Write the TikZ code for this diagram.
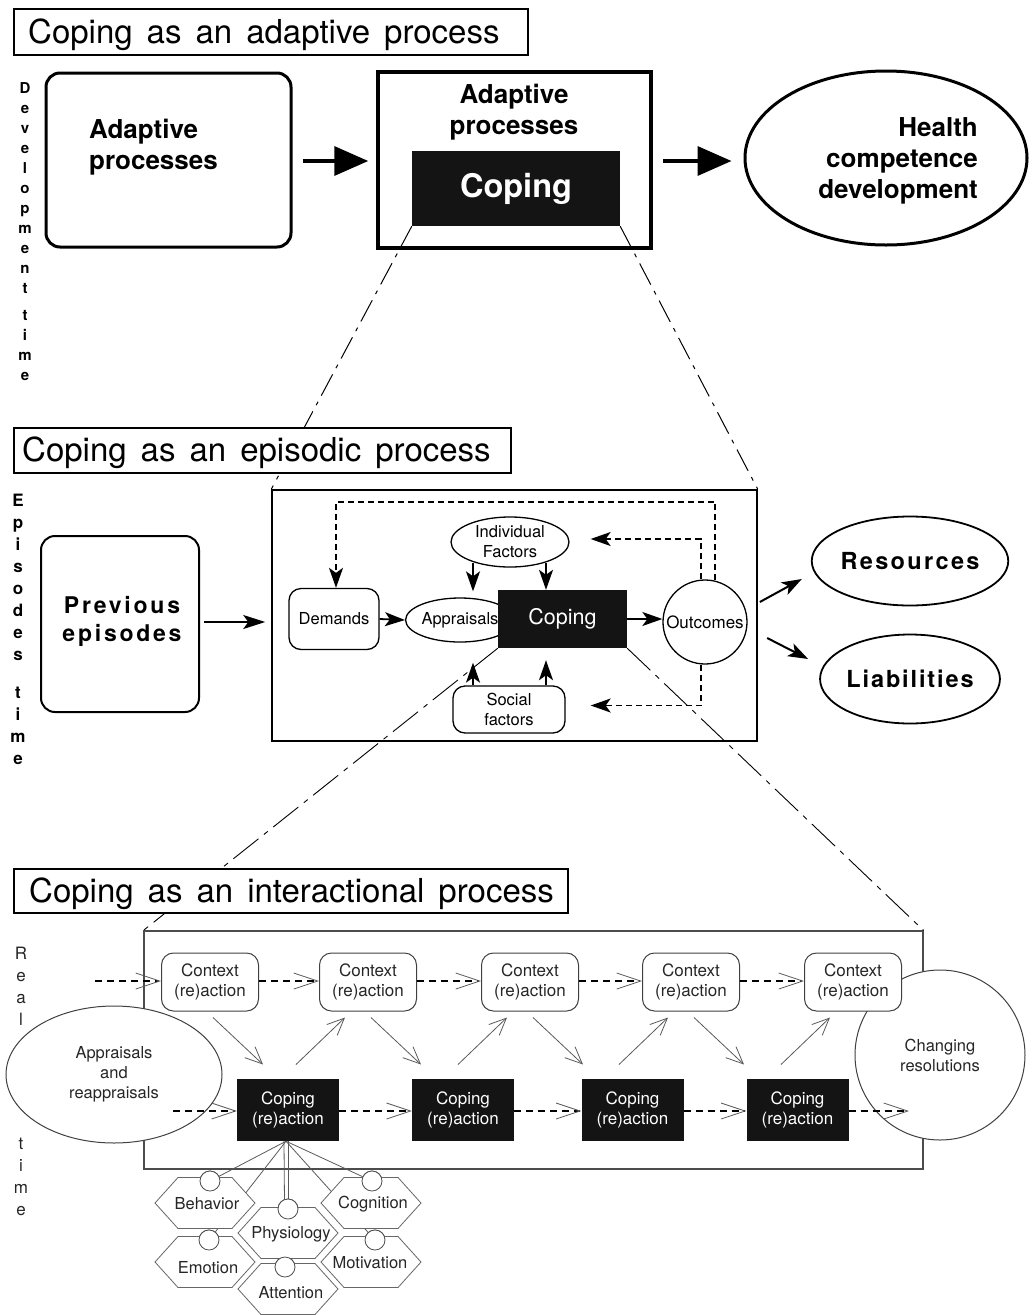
\documentclass[tikz,border=0pt]{standalone}
\usepackage{fontspec}
\setmainfont{TeX Gyre Heros}
\usetikzlibrary{arrows.meta,shapes.geometric,calc}
\newcommand\titlesetup{\fontsize{33}{38}\selectfont\spaceskip=14pt\relax}

\tikzset{
  titlebox/.style={draw, line width=1.5pt, fill=white, inner sep=0, anchor=north west},
  titletext/.style={font=\titlesetup, anchor=base west, inner sep=0},
  bigbold/.style={font=\bfseries\fontsize{26}{31}\selectfont, inner sep=0},
  bigarrow/.style={line width=3.5pt, -{Triangle[length=34pt,width=29pt]}},
  zoomline/.style={line width=1pt, dash pattern=on 24pt off 7pt on 4pt off 7pt},
  zoomlinelow/.style={line width=0.9pt, dash pattern=on 32pt off 7pt on 5pt off 7pt},
  midbox/.style={draw, line width=1.3pt, fill=white, font=\fontsize{16.5}{20}\selectfont, align=center, inner sep=0},
  midarrow/.style={line width=1.8pt, -{Stealth[length=20pt,width=14pt,inset=5pt]}},
  fbarrow/.style={line width=1.6pt, dash pattern=on 6pt off 4pt, -{Stealth[length=20pt,width=14pt,inset=5pt]}},
  lettered/.style={font={\bfseries\fontsize{23}{28}\selectfont\addfontfeature{LetterSpace=12}}, align=center, inner sep=0},
  ctxbox/.style={draw=black!75, line width=1pt, fill=white, rounded corners=12pt, minimum width=97pt, minimum height=58pt, align=center, font=\fontsize{17}{20}\selectfont, text=black!85, inner sep=0},
  copbox/.style={fill=black!92, text=white, minimum width=102pt, minimum height=62pt, align=center, font=\fontsize{17}{19.5}\selectfont, inner sep=0},
  flow/.style={line width=1.5pt, dash pattern=on 7pt off 5pt, -{Straight Barb[length=24pt,width=16pt,line width=0.8pt,color=black!65]}},
  diag/.style={draw=black!65, line width=0.8pt, -{Straight Barb[length=17pt,width=15pt]}},
  hexa/.style={draw=black!60, line width=0.8pt, fill=white},
  hextext/.style={font=\fontsize{16.5}{20}\selectfont, text=black!85, inner sep=0},
  joint/.style={circle, draw=black!70, line width=0.8pt, fill=white, minimum size=20pt, inner sep=0},
  spoke/.style={draw=black!65, line width=0.8pt},
  hexpic/.pic={\path[hexa] (-50,0) -- (-27,-25.5) -- (27,-25.5) -- (50,0) -- (27,25.5) -- (-27,25.5) -- cycle;}
}

\begin{document}
\begin{tikzpicture}[x=1pt,y=-1pt]
\useasboundingbox (0,0) rectangle (1033,1315);

% ---------- adaptive process ----------
\node[titlebox, minimum width=514pt, minimum height=46pt] (title1) at (13,8) {};
\node[titletext] (title1txt) at (28,43) {Coping as an adaptive process};

\node[align=center, inner sep=0, anchor=north, font=\bfseries\fontsize{15}{20}\selectfont] (devtime) at (25,82)
  {D\\e\\v\\e\\l\\o\\p\\m\\e\\n\\t\\[7pt]t\\i\\m\\e};

\node[draw, line width=3pt, rounded corners=14pt, minimum width=245pt, minimum height=174pt] (ad1) at (168.5,160) {};
\node[bigbold, align=left, anchor=west] (ad1txt) at (89,147) {Adaptive\\processes};

\node[draw, line width=3.5pt, minimum width=273pt, minimum height=176pt] (ad2) at (514.5,160) {};
\node[bigbold, align=center] (ad2txt) at (514,112) {Adaptive\\processes};
\node[fill=black!92, text=white, minimum width=208pt, minimum height=75pt, inner sep=0,
      font=\bfseries\fontsize{32.5}{36}\selectfont] (cop0) at (516,188.5) {Coping};

\node[draw, ellipse, line width=3pt, minimum width=282pt, minimum height=174pt, inner sep=0] (hcd) at (886,158) {};
\node[bigbold, align=right, anchor=east] (hcdtxt) at (978,161) {Health\\competence\\development};

\draw[bigarrow] ([xshift=10pt]ad1.east |- 0,161) -- ([xshift=-8pt]ad2.west |- 0,161);
\draw[bigarrow] ([xshift=10pt]ad2.east |- 0,161) -- ([xshift=-12pt]hcd.west |- 0,161);

% ---------- episodic process ----------
\node[draw, line width=1.5pt, minimum width=485pt, minimum height=251pt, inner sep=0] (epi) at (514.5,615.5) {};

\draw[zoomline] (cop0.south west) -- (epi.north west);
\draw[zoomline] (cop0.south east) -- (epi.north east);

\node[titlebox, minimum width=497pt, minimum height=45pt] (title2) at (13,427) {};
\node[titletext] (title2txt) at (22,461) {Coping as an episodic process};

\node[align=center, inner sep=0, anchor=north, font=\bfseries\fontsize{17}{22}\selectfont] (epitime) at (18,494)
  {E\\p\\i\\s\\o\\d\\e\\s\\[16pt]t\\i\\m\\e};

\node[draw, line width=2pt, rounded corners=14pt, minimum width=158pt, minimum height=176pt] (prev) at (120,624) {};
\node[lettered] (prevtxt) at (122,621) {Previous\\episodes};
\draw[line width=1.6pt, -{Stealth[length=22pt,width=14pt,inset=5pt]}] ([xshift=4pt]prev.east |- 0,622) -- ([xshift=-6pt]epi.west |- 0,622);

\node[midbox, rounded corners=12pt, minimum width=90pt, minimum height=61pt] (dem) at (334,619) {Demands};
\node[midbox, ellipse, minimum width=94pt, minimum height=44pt] (app) at (460,620) {Appraisals};
\node[fill=black!92, text=white, minimum width=129pt, minimum height=58pt, inner sep=0,
      font=\fontsize{21.5}{24}\selectfont] (cop) at (562.5,619) {Coping};
\node[midbox, circle, minimum size=84pt, font=\fontsize{17}{20}\selectfont] (out) at (705,622) {Outcomes};
\node[midbox, ellipse, minimum width=118pt, minimum height=50pt] (ind) at (510,542) {Individual\\Factors};
\node[midbox, rounded corners=12pt, minimum width=112pt, minimum height=47pt] (soc) at (509,709.5) {Social\\factors};

\draw[midarrow] (dem.east) -- (app.west);
\draw[midarrow] (cop.east |- 0,619) -- (out.west |- 0,619);
\draw[midarrow] ($(ind.south)+(-37,-5)$) -- ($(app.north)+(13,-6)$);
\draw[midarrow] ($(ind.south)+(36,-5)$) -- ($(cop.north)+(-16.5,0)$);
\draw[midarrow] ($(soc.north)+(-36,0)$) -- ($(app.south)+(13,20)$);
\draw[midarrow] ($(soc.north)+(37,0)$) -- ($(cop.south)+(-16.5,12)$);

\draw[fbarrow] ($(out.north)+(10,1)$) |- ($(dem.north)+(2,-86)$) -- ($(dem.north)+(2,0)$);
\draw[fbarrow] ($(out.north)+(-4,0)$) |- ($(ind.east)+(21,-3)$);
\draw[fbarrow] ($(out.south)+(-4,0)$) |- ($(soc.east)+(25,-4)$);

\node[draw, ellipse, line width=1.8pt, minimum width=164pt, minimum height=89pt, inner sep=0,
      font={\bfseries\fontsize{23.5}{28}\selectfont\addfontfeature{LetterSpace=10}}] (res) at (910,561) {Resources};
\node[draw, ellipse, line width=1.8pt, minimum width=164pt, minimum height=89pt, inner sep=0,
      font={\bfseries\fontsize{23.5}{28}\selectfont\addfontfeature{LetterSpace=8}}] (lia) at (910,679) {Liabilities};
\draw[line width=2pt, -{Stealth[length=20pt,width=14pt,inset=5pt]}] ($(res.west)+(-51,41)$) -- ($(res.west)+(-9,18)$);
\draw[line width=2pt, -{Stealth[length=20pt,width=14pt,inset=5pt]}] ($(lia.west)+(-52,-41)$) -- ($(lia.west)+(-11,-20)$);

% ---------- interactional process ----------
\node[draw=black!70, line width=1.2pt, minimum width=779pt, minimum height=238pt, inner sep=0] (inter) at (533.5,1050) {};

\draw[zoomlinelow] (cop.south west) -- (inter.north west);
\draw[zoomlinelow] (cop.south east) -- (inter.north east);

\node[titlebox, minimum width=554pt, minimum height=44pt] (title3) at (13,868) {};
\node[titletext] (title3txt) at (29,902) {Coping as an interactional process};

\node[align=center, inner sep=0, anchor=north, text=black!85, font=\fontsize{17}{22}\selectfont] (realtime) at (21,947)
  {R\\e\\a\\l\\[102pt]t\\i\\m\\e};

\node[draw=black!75, line width=1pt, fill=white, ellipse, minimum width=216pt, minimum height=137pt, inner sep=0,
      align=center, text=black!85, font=\fontsize{16.5}{20}\selectfont] (reapp) at (114,1074.5) {Appraisals\\and\\reappraisals};
\node[draw=black!75, line width=1pt, fill=white, circle, minimum size=170pt, inner sep=0,
      align=center, text=black!85, font=\fontsize{16.5}{20}\selectfont] (chg) at (940,1055) {Changing\\resolutions};

\node[ctxbox] (ctx1) at (210,982) {Context\\(re)action};
\node[ctxbox] (ctx2) at (368,982) {Context\\(re)action};
\node[ctxbox] (ctx3) at (530,982) {Context\\(re)action};
\node[ctxbox] (ctx4) at (691,982) {Context\\(re)action};
\node[ctxbox] (ctx5) at (853,982) {Context\\(re)action};

\node[copbox] (cr1) at (288,1110) {Coping\\(re)action};
\node[copbox] (cr2) at (463,1110) {Coping\\(re)action};
\node[copbox] (cr3) at (632.5,1110) {Coping\\(re)action};
\node[copbox] (cr4) at (797.5,1110) {Coping\\(re)action};

\coordinate (ctxin) at (95,981);
\coordinate (crin) at (173,1111);
\coordinate (crout) at (909,1111);

\draw[flow] (ctxin) -- (ctx1.west |- ctxin);
\foreach \a/\b in {ctx1/ctx2, ctx2/ctx3, ctx3/ctx4, ctx4/ctx5}
  \draw[flow] (\a.east |- ctxin) -- (\b.west |- ctxin);
\draw[flow] (crin) -- (cr1.west |- crin);
\foreach \a/\b in {cr1/cr2, cr2/cr3, cr3/cr4}
  \draw[flow] (\a.east |- crin) -- (\b.west |- crin);
\draw[flow] (cr4.east |- crin) -- (crout);

\foreach \i in {1,2,3,4}
  \draw[diag] ($(ctx\i.south)+(3,6)$) -- ($(ctx\i.south)+(53,53)$);
\foreach \i in {2,3,4,5}
  \draw[diag] ($(ctx\i.south)+(-72,53)$) -- ($(ctx\i.south)+(-23,6)$);

% facets of a coping reaction
\coordinate (hub) at ($(cr1.south)+(-2,0)$);
\node[joint] (jBeh) at (210,1181) {};
\node[joint] (jCog) at (372,1181) {};
\node[joint] (jPhy) at (288,1209) {};
\node[joint] (jEmo) at (209,1240) {};
\node[joint] (jMot) at (375,1240) {};
\node[joint] (jAtt) at (285,1267) {};

\draw[spoke] (hub) -- (jBeh);
\draw[spoke] (hub) -- (jEmo);
\draw[spoke] (hub) -- (jCog);
\draw[spoke] (hub) -- (jMot);
\draw[spoke] ($(cr1.south)+(0,0)$) -- (jPhy);
\draw[spoke] ($(cr1.south)+(-4,0)$) -- (jAtt);

\pic at (205,1203) {hexpic};
\pic at (371,1203) {hexpic};
\pic at (288,1233) {hexpic};
\pic at (205,1262) {hexpic};
\pic at (371,1262) {hexpic};
\pic at (288,1289) {hexpic};

\node[joint] (jBeh2) at (jBeh) {};
\node[joint] (jCog2) at (jCog) {};
\node[joint] (jPhy2) at (jPhy) {};
\node[joint] (jEmo2) at (jEmo) {};
\node[joint] (jMot2) at (jMot) {};
\node[joint] (jAtt2) at (jAtt) {};

\node[hextext] (tBeh) at (207,1204) {Behavior};
\node[hextext] (tCog) at (373,1204) {Cognition};
\node[hextext] (tPhy) at (291,1234) {Physiology};
\node[hextext] (tEmo) at (208,1268) {Emotion};
\node[hextext] (tMot) at (370,1263) {Motivation};
\node[hextext] (tAtt) at (291,1293) {Attention};

\end{tikzpicture}
\end{document}
